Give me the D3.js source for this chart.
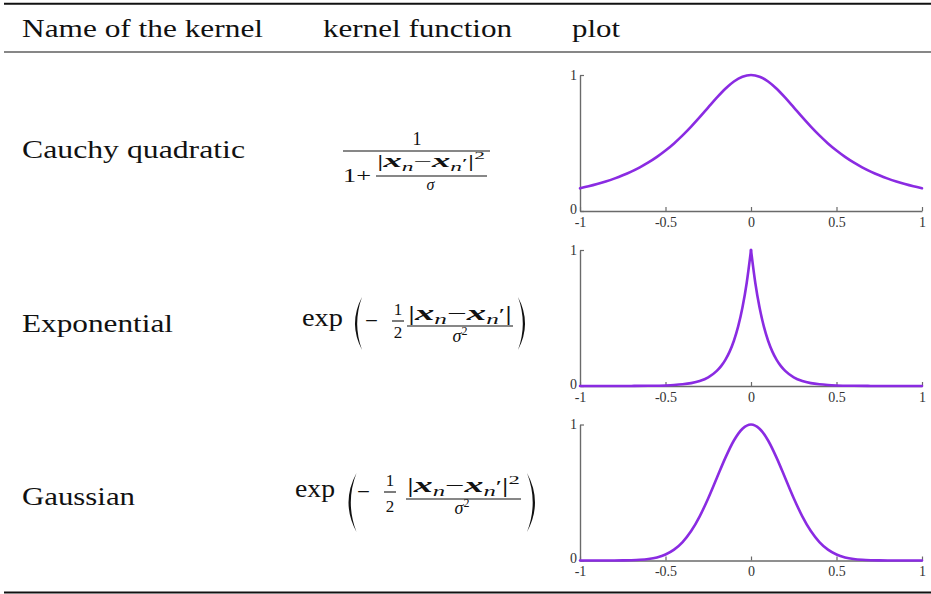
<!DOCTYPE html>
<html>
<head>
<meta charset="utf-8">
<script src="https://cdn.jsdelivr.net/npm/d3@7"></script>
<style>
  body { margin: 0; background: #fff; }
  svg text { font-family: "Liberation Serif", "Times New Roman", serif; fill: #111; }
</style>
</head>
<body>
<svg id="chart" width="931" height="594"></svg>
<script>
// ---- table content ----
const headers = ["Name of the kernel", "kernel function", "plot"];
const kernelNames = ["Cauchy quadratic", "Exponential", "Gaussian"];

// ---- axis ticks ----
const xTicks = [-1, -0.5, 0, 0.5, 1];
const xTickLabels = ["-1", "-0.5", "0", "0.5", "1"];
const yTicks = [0, 1];
const yTickLabels = ["0", "1"];

// ---- sampled kernel curves ----
const gridX = [-1, -0.95, -0.9, -0.85, -0.8, -0.75, -0.7, -0.65, -0.6, -0.55, -0.5,
  -0.45, -0.4, -0.35, -0.3, -0.25, -0.2, -0.15, -0.1, -0.05, 0,
  0.05, 0.1, 0.15, 0.2, 0.25, 0.3, 0.35, 0.4, 0.45, 0.5,
  0.55, 0.6, 0.65, 0.7, 0.75, 0.8, 0.85, 0.9, 0.95, 1];
const cauchyY = [0.1667, 0.1814, 0.1980, 0.2168, 0.2381, 0.2623, 0.2899, 0.3213, 0.3571, 0.3980, 0.4444,
  0.4969, 0.5556, 0.6202, 0.6897, 0.7619, 0.8333, 0.8989, 0.9524, 0.9877, 1,
  0.9877, 0.9524, 0.8989, 0.8333, 0.7619, 0.6897, 0.6202, 0.5556, 0.4969, 0.4444,
  0.3980, 0.3571, 0.3213, 0.2899, 0.2623, 0.2381, 0.2168, 0.1980, 0.1814, 0.1667];
const gaussY = [0, 0, 0, 0.0001, 0.0003, 0.0009, 0.0022, 0.0051, 0.0111, 0.0228, 0.0439,
  0.0796, 0.1353, 0.2163, 0.3247, 0.4578, 0.6065, 0.7548, 0.8825, 0.9692, 1,
  0.9692, 0.8825, 0.7548, 0.6065, 0.4578, 0.3247, 0.2163, 0.1353, 0.0796, 0.0439,
  0.0228, 0.0111, 0.0051, 0.0022, 0.0009, 0.0003, 0.0001, 0, 0, 0];
const expX = [-1, -0.9, -0.8, -0.7, -0.6, -0.5, -0.45, -0.4, -0.35, -0.3, -0.25, -0.2,
  -0.175, -0.15, -0.125, -0.1, -0.075, -0.05, -0.025, 0,
  0.025, 0.05, 0.075, 0.1, 0.125, 0.15, 0.175,
  0.2, 0.25, 0.3, 0.35, 0.4, 0.45, 0.5, 0.6, 0.7, 0.8, 0.9, 1];
const expY = [0, 0.0001, 0.0002, 0.0005, 0.0014, 0.0041, 0.0071, 0.0123, 0.0213, 0.0369, 0.0639, 0.1108,
  0.1459, 0.1920, 0.2528, 0.3329, 0.4382, 0.5769, 0.7596, 1,
  0.7596, 0.5769, 0.4382, 0.3329, 0.2528, 0.1920, 0.1459,
  0.1108, 0.0639, 0.0369, 0.0213, 0.0123, 0.0071, 0.0041, 0.0014, 0.0005, 0.0002, 0.0001, 0];

const svg = d3.select("#chart");
const W = 931;

// ---- booktabs-style rules ----
svg.append("line").attr("x1", 4).attr("x2", W).attr("y1", 3.7).attr("y2", 3.7)
  .attr("stroke", "#111").attr("stroke-width", 2);
svg.append("line").attr("x1", 4).attr("x2", W).attr("y1", 52).attr("y2", 52)
  .attr("stroke", "#111").attr("stroke-width", 1.2);
svg.append("line").attr("x1", 4).attr("x2", W).attr("y1", 592.5).attr("y2", 592.5)
  .attr("stroke", "#111").attr("stroke-width", 2.2);

// ---- header and row labels ----
const headerPos = [{ x: 22, w: 241 }, { x: 323, w: 189 }, { x: 572, w: 48 }];
svg.selectAll("text.hdr").data(headers).join("text").attr("class", "hdr")
  .attr("x", (d, i) => headerPos[i].x).attr("y", 37)
  .attr("font-size", 26)
  .attr("textLength", (d, i) => headerPos[i].w).attr("lengthAdjust", "spacingAndGlyphs")
  .text(d => d);

const rowBase = [157.5, 332, 505];
const rowW = [223, 151, 113];
svg.selectAll("text.row").data(kernelNames).join("text").attr("class", "row")
  .attr("x", 22).attr("y", (d, i) => rowBase[i])
  .attr("font-size", 26)
  .attr("textLength", (d, i) => rowW[i]).attr("lengthAdjust", "spacingAndGlyphs")
  .text(d => d);

// ---- small math typesetting helpers ----
// parts: [text, {size, italic, bold, dy}] ; dy is relative to the previous part
function mathRun(parts, x, y, width, anchor) {
  const g = svg.append("g");
  const t = g.append("text").attr("x", 0).attr("y", 0);
  parts.forEach(([s, o]) => {
    t.append("tspan")
      .style("font-size", (o.size || 18) + "px")
      .style("font-style", o.italic ? "italic" : "normal")
      .style("font-weight", o.bold ? "bold" : "normal")
      .attr("dy", o.dy || 0)
      .text(s);
  });
  const bb = t.node().getBBox();
  const s = width ? width / bb.width : 1;
  const w = bb.width * s;
  const left = anchor === "middle" ? x - w / 2 : x;
  g.attr("transform", `translate(${left - bb.x * s},${y}) scale(${s},1)`);
  return g;
}
function bar(x1, x2, y) {
  svg.append("line").attr("x1", x1).attr("x2", x2).attr("y1", y).attr("y2", y)
    .attr("stroke", "#111").attr("stroke-width", 1.1);
}
// parenthesis drawn as a thin crescent; dir = -1 for "(" and +1 for ")"
function paren(x0, y0, y1, bulge, thick, dir) {
  const ym = (y0 + y1) / 2;
  const p = d3.path();
  p.moveTo(x0, y0);
  p.quadraticCurveTo(x0 + dir * 2 * bulge, ym, x0, y1);
  p.quadraticCurveTo(x0 + dir * (2 * bulge - 2 * thick), ym, x0, y0);
  p.closePath();
  svg.append("path").attr("d", p.toString()).attr("fill", "#111");
}
function diffNorm(sz, xs, squared) {
  const parts = [
    ["|", { size: sz }],
    ["x", { size: xs, italic: true, bold: true }],
    ["n", { size: sz * 0.72, italic: true, dy: 4 }],
    ["\u2212", { size: sz, dy: -4 }],
    ["x", { size: xs, italic: true, bold: true }],
    ["n", { size: sz * 0.72, italic: true, dy: 4 }],
    ["\u2032", { size: sz * 0.8, dy: -4 }],
    ["|", { size: sz, dy: 0 }]
  ];
  if (squared) parts.push(["2", { size: sz * 0.66, dy: -8 }]);
  return parts;
}

// Cauchy quadratic: 1 / (1 + |x_n - x_n'|^2 / sigma)
mathRun([["1", { size: 18 }]], 417, 145, null, "middle");
bar(343, 490, 151);
mathRun([["1+", { size: 18 }]], 343, 182, 28);
mathRun(diffNorm(16, 18, true), 377, 167, 108);
bar(376, 487, 176);
mathRun([["\u03c3", { size: 16, italic: true }]], 431, 190, null, "middle");

// Exponential: exp(-1/2 |x_n - x_n'| / sigma^2)
mathRun([["exp", { size: 26 }]], 302, 326, 41);
paren(362, 297, 350, 7, 2.2, -1);
mathRun([["\u2212", { size: 22 }]], 365, 328, 13);
mathRun([["1", { size: 17 }]], 398, 315, null, "middle");
bar(392, 404, 321);
mathRun([["2", { size: 17 }]], 398, 338, null, "middle");
mathRun(diffNorm(20, 22, false), 408, 320, 104);
bar(407, 513, 326);
mathRun([["\u03c3", { size: 18, italic: true }], ["2", { size: 12, dy: -7 }]], 460, 342, null, "middle");
paren(518, 297, 350, 7, 2.2, 1);

// Gaussian: exp(-1/2 |x_n - x_n'|^2 / sigma^2)
mathRun([["exp", { size: 26 }]], 295, 497, 40);
paren(356.5, 473, 532, 8, 2.3, -1);
mathRun([["\u2212", { size: 22 }]], 357, 499, 13);
mathRun([["1", { size: 17 }]], 390, 486, null, "middle");
bar(384, 396, 492);
mathRun([["2", { size: 17 }]], 390, 512, null, "middle");
mathRun(diffNorm(20, 22, true), 407, 492, 113);
bar(406, 521, 499);
mathRun([["\u03c3", { size: 18, italic: true }], ["2", { size: 12, dy: -7 }]], 462, 514, null, "middle");
paren(527, 473, 532, 8, 2.3, 1);

// ---- kernel plots ----
const x = d3.scaleLinear().domain([-1, 1]).range([580, 922]);
const plotTops = [75, 250, 424.5];
const plotH = 136;
const curves = [
  { xs: gridX, ys: cauchyY, split: false },
  { xs: expX, ys: expY, split: true },
  { xs: gridX, ys: gaussY, split: false }
];

curves.forEach((c, i) => {
  const y = d3.scaleLinear().domain([0, 1]).range([plotTops[i] + plotH, plotTops[i]]);
  const g = svg.append("g");

  const xAxis = d3.axisBottom(x).tickValues(xTicks)
    .tickFormat((d, k) => xTickLabels[k]).tickSizeInner(-4).tickSizeOuter(0).tickPadding(6);
  const gx = g.append("g").attr("transform", `translate(0,${y(0)})`).call(xAxis);
  const yAxis = d3.axisLeft(y).tickValues(yTicks)
    .tickFormat((d, k) => yTickLabels[k]).tickSizeInner(-4).tickSizeOuter(0).tickPadding(3);
  const gy = g.append("g").attr("transform", `translate(${x(-1)},0)`).call(yAxis);

  [gx, gy].forEach(a => {
    a.select(".domain").attr("stroke", "#6a6a6a").attr("stroke-width", 1.4);
    a.selectAll(".tick line").attr("stroke", "#6a6a6a").attr("stroke-width", 1.2);
    a.selectAll(".tick text")
      .style("font-family", "'Liberation Serif', serif")
      .style("font-size", "14px").style("fill", "#333");
  });
  gy.selectAll(".tick text").attr("dy", "0.3em")
    .attr("y", d => d === 0 ? -2 : 0);
  gx.selectAll(".tick text").attr("dy", "0.71em");

  const pts = c.xs.map((v, k) => [v, c.ys[k]]);
  const line = d3.line().x(d => x(d[0])).y(d => y(d[1])).curve(d3.curveMonotoneX);
  const segs = c.split ? [pts.filter(d => d[0] <= 0), pts.filter(d => d[0] >= 0)] : [pts];
  segs.forEach(s => {
    g.append("path").attr("d", line(s)).attr("fill", "none")
      .attr("stroke", "#8a2be2").attr("stroke-width", 2.6)
      .attr("stroke-linejoin", "round").attr("stroke-linecap", "round");
  });
});
</script>
</body>
</html>
